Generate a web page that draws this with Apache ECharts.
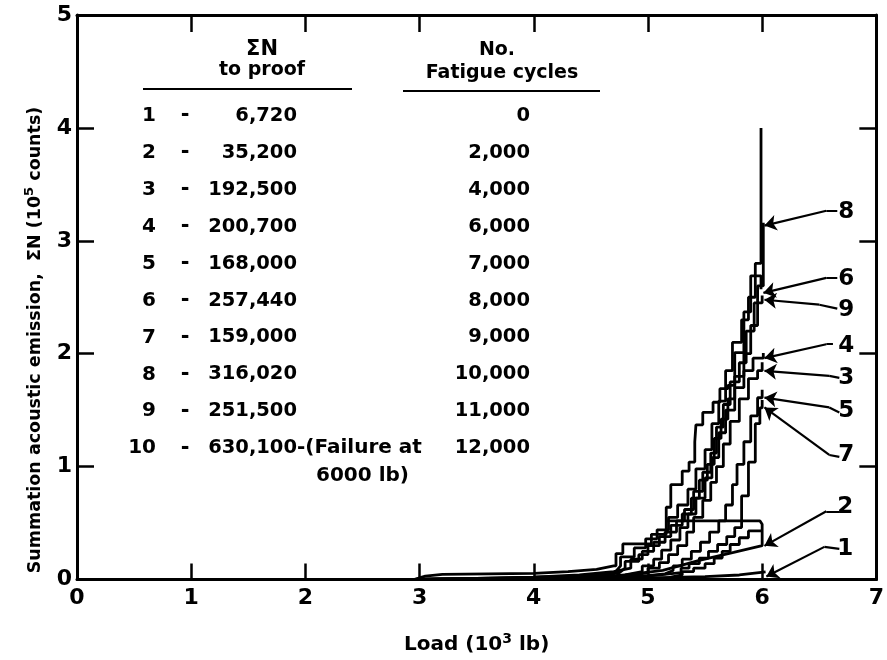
<!DOCTYPE html>
<html><head><meta charset="utf-8">
<script src="https://cdn.jsdelivr.net/npm/echarts@6/dist/echarts.min.js"></script>
<style>html,body{margin:0;padding:0;background:#fff}#c{width:887px;height:660px}</style>
</head><body><div id="c"></div>
<script>
// ---- Data (Load in 10^3 lb, ΣN in 10^5 counts) ----
const xTicks = [0,1,2,3,4,5,6,7];
const yTicks = [0,1,2,3,4,5];

const curve1 = [[2.95,0],[4.0,0.005],[5.0,0.015],[5.5,0.025],[5.8,0.04],[6.03,0.067]];
const curve2 = [[5.20,0.02],[5.30,0.04],[5.30,0.07],[5.40,0.07],[5.40,0.10],[5.50,0.10],[5.50,0.14],[5.58,0.14],[5.58,0.19],[5.65,0.19],[5.65,0.25],[5.72,0.25],[5.72,0.31],[5.80,0.31],[5.80,0.37],[5.88,0.37],[5.88,0.43],[6.0,0.43]];
const curve2b = [[2.95,0],[3.5,0.005],[4.0,0.01],[4.72,0.03],[5.13,0.08],[5.45,0.17],[5.75,0.24],[6.0,0.30],[6.0,0.49],[5.98,0.52],[5.16,0.52]];
const curve3 = [[2.95,0],[3.5,0.005],[4.0,0.01],[4.5,0.02],[4.85,0.035],[5.0,0.06],[5.0,0.1],[5.1,0.1],[5.1,0.15],[5.18,0.15],[5.18,0.22],[5.26,0.22],[5.26,0.3],[5.34,0.3],[5.34,0.42],[5.4,0.42],[5.4,0.55],[5.48,0.55],[5.48,0.7],[5.55,0.7],[5.55,0.86],[5.6,0.86],[5.6,1.0],[5.66,1.0],[5.66,1.2],[5.72,1.2],[5.72,1.4],[5.8,1.4],[5.8,1.6],[5.88,1.6],[5.88,1.78],[5.96,1.78],[5.96,1.85],[6.0,1.85],[6.0,1.925]];
const curve4 = [[2.95,0],[3.5,0.005],[4.0,0.01],[4.5,0.02],[4.8,0.04],[4.95,0.07],[4.95,0.12],[5.05,0.12],[5.05,0.18],[5.12,0.18],[5.12,0.26],[5.2,0.26],[5.2,0.35],[5.28,0.35],[5.28,0.46],[5.35,0.46],[5.35,0.58],[5.42,0.58],[5.42,0.72],[5.5,0.72],[5.5,0.9],[5.56,0.9],[5.56,1.08],[5.62,1.08],[5.62,1.3],[5.68,1.3],[5.68,1.5],[5.76,1.5],[5.76,1.7],[5.84,1.7],[5.84,1.85],[5.92,1.85],[5.92,1.96],[6.01,1.96],[6.01,2.007]];
const curve5 = [[2.95,0],[3.5,0.003],[4.0,0.008],[4.5,0.015],[4.9,0.025],[5.15,0.05],[5.22,0.08],[5.22,0.12],[5.3,0.12],[5.3,0.18],[5.38,0.18],[5.38,0.25],[5.46,0.25],[5.46,0.33],[5.54,0.33],[5.54,0.42],[5.62,0.42],[5.62,0.52],[5.68,0.52],[5.68,0.66],[5.74,0.66],[5.74,0.84],[5.78,0.84],[5.78,1.02],[5.84,1.02],[5.84,1.22],[5.9,1.22],[5.9,1.45],[5.96,1.45],[5.96,1.61],[6.0,1.61],[6.0,1.68]];
const curve6 = [[2.95,0],[3.05,0.03],[3.2,0.045],[3.6,0.05],[4.0,0.055],[4.3,0.07],[4.55,0.09],[4.70,0.12],[4.72,0.12],[4.72,0.23],[4.78,0.23],[4.78,0.315],[5.03,0.315],[5.03,0.40],[5.16,0.40],[5.16,0.64],[5.20,0.64],[5.20,0.84],[5.30,0.84],[5.30,0.96],[5.36,0.96],[5.36,1.04],[5.41,1.04],[5.41,1.22],[5.42,1.22],[5.42,1.37],[5.48,1.37],[5.48,1.48],[5.57,1.48],[5.57,1.57],[5.63,1.57],[5.63,1.69],[5.70,1.69],[5.70,1.72],[5.76,1.72],[5.76,2.01],[5.84,2.01],[5.84,2.37],[5.90,2.37],[5.90,2.69],[5.99,2.69],[5.99,2.57]];
const curve7 = [[2.95,0],[3.5,0.003],[4.0,0.006],[4.6,0.015],[5.0,0.03],[5.29,0.06],[5.29,0.10],[5.36,0.10],[5.36,0.14],[5.45,0.14],[5.45,0.19],[5.53,0.19],[5.53,0.25],[5.61,0.25],[5.61,0.31],[5.69,0.31],[5.69,0.38],[5.76,0.38],[5.76,0.46],[5.82,0.46],[5.82,0.74],[5.88,0.74],[5.88,1.04],[5.94,1.04],[5.94,1.38],[5.98,1.38],[5.98,1.52],[6.0,1.52],[6.0,1.59]];
const curve8 = [[2.95,0],[3.5,0.008],[4.0,0.015],[4.5,0.03],[4.75,0.06],[4.80,0.1],[4.80,0.16],[4.92,0.16],[4.92,0.22],[5.0,0.22],[5.0,0.30],[5.1,0.30],[5.1,0.38],[5.2,0.38],[5.2,0.48],[5.3,0.48],[5.3,0.58],[5.38,0.58],[5.38,0.72],[5.45,0.72],[5.45,0.88],[5.52,0.88],[5.52,1.02],[5.58,1.02],[5.58,1.25],[5.64,1.25],[5.64,1.42],[5.70,1.42],[5.70,1.60],[5.76,1.60],[5.76,1.80],[5.84,1.80],[5.84,2.0],[5.90,2.0],[5.90,2.25],[5.96,2.25],[5.96,2.6],[6.01,2.6],[6.01,3.16]];
const curve9 = [[2.95,0],[3.5,0.01],[4.0,0.02],[4.4,0.04],[4.7,0.07],[4.85,0.1],[4.85,0.18],[4.95,0.18],[4.95,0.25],[5.05,0.25],[5.05,0.33],[5.15,0.33],[5.15,0.42],[5.25,0.42],[5.25,0.52],[5.32,0.52],[5.32,0.62],[5.40,0.62],[5.40,0.78],[5.48,0.78],[5.48,0.95],[5.55,0.95],[5.55,1.12],[5.60,1.12],[5.60,1.35],[5.66,1.35],[5.66,1.55],[5.72,1.55],[5.72,1.75],[5.80,1.75],[5.80,1.92],[5.86,1.92],[5.86,2.2],[5.93,2.2],[5.93,2.45],[6.0,2.45],[6.0,2.515]];
const curve10 = [[2.95,0],[3.5,0.01],[4.0,0.02],[4.5,0.035],[4.7,0.05],[4.76,0.12],[4.76,0.2],[4.88,0.2],[4.88,0.28],[4.98,0.28],[4.98,0.36],[5.08,0.36],[5.08,0.44],[5.18,0.44],[5.18,0.55],[5.26,0.55],[5.26,0.66],[5.35,0.66],[5.35,0.80],[5.42,0.80],[5.42,0.98],[5.5,0.98],[5.5,1.15],[5.56,1.15],[5.56,1.38],[5.62,1.38],[5.62,1.58],[5.68,1.58],[5.68,1.85],[5.74,1.85],[5.74,2.1],[5.82,2.1],[5.82,2.3],[5.88,2.3],[5.88,2.5],[5.94,2.5],[5.94,2.8],[5.99,2.8],[5.99,4.0]];

// Table (legend) values
const specimenNo = ['1','2','3','4','5','6','7','8','9','10'];
const sumNToProof = ['6,720','35,200','192,500','200,700','168,000','257,440','159,000','316,020','251,500','630,100'];
const fatigueCycles = ['0','2,000','4,000','6,000','7,000','8,000','9,000','10,000','11,000','12,000'];

// Curve callouts: label, label point, bend point, arrow tip (data units)
const calloutNames = ['8','6','9','4','3','5','7','2','1'];
const calloutLabel = [[6.737,3.257],[6.737,2.662],[6.737,2.39],[6.737,2.067],[6.737,1.786],[6.737,1.489],[6.737,1.103],[6.728,0.639],[6.728,0.271]];
const calloutStart = [[6.658,3.266],[6.658,2.671],[6.658,2.399],[6.62,2.084],[6.676,1.786],[6.676,1.48],[6.676,1.086],[6.676,0.604],[6.676,0.271]];
const calloutBend  = [[6.562,3.266],[6.562,2.671],[6.501,2.434],[6.562,2.084],[6.588,1.804],[6.588,1.524],[6.588,1.103],[6.562,0.604],[6.545,0.289]];
const calloutTip   = [[6.020,3.135],[6.011,2.539],[6.020,2.478],[6.020,1.961],[6.020,1.848],[6.020,1.611],[6.020,1.524],[6.020,0.298],[6.037,0.026]];

const curves = [curve1,curve2,curve2b,curve3,curve4,curve5,curve6,curve7,curve8,curve9,curve10];

const FONT = 'DejaVu Sans';
const chart = echarts.init(document.getElementById('c'), null, {renderer:'canvas'});

const curveSeries = curves.map((d,i)=>({
  type:'line', data:d, showSymbol:false, symbol:'none', animation:false,
  lineStyle:{color:'#000', width:2.8, opacity:1}, z:3, silent:true
}));

const txt = (text, x, y, align, size, vAlign) => ({
  type:'text', x:x, y:y, silent:true,
  style:{text:text, fill:'#000', font:'bold '+(size||20)+'px "'+FONT+'"',
    textAlign:align||'left', textVerticalAlign:vAlign||'middle', align:align||'left', verticalAlign:vAlign||'middle'}
});

const graphics = [];
graphics.push(txt('ΣN', 262, 50, 'center', 21));
graphics.push(txt('to proof', 262, 70, 'center', 19));
graphics.push(txt('No.', 497, 50, 'center', 19));
graphics.push(txt('Fatigue cycles', 502, 73, 'center', 19));
graphics.push({type:'line', shape:{x1:143,y1:89,x2:352,y2:89}, style:{stroke:'#000', lineWidth:2}, silent:true});
graphics.push({type:'line', shape:{x1:403,y1:91,x2:600,y2:91}, style:{stroke:'#000', lineWidth:2}, silent:true});
for (let i=0;i<specimenNo.length;i++){
  const y = 116 + 36.9*i;
  graphics.push(txt(specimenNo[i], 156, y, 'right', 20));
  graphics.push(txt('-', 185, y, 'center', 21));
  graphics.push(txt(sumNToProof[i], 297, y, 'right', 19.5));
  graphics.push(txt(fatigueCycles[i], 530, y, 'right', 19.5));
}
graphics.push(txt('-(Failure at', 297, 116+36.9*9, 'left', 20));
graphics.push(txt('6000 lb)', 316, 476, 'left', 20));
// y-axis title (rotated)
graphics.push({type:'text', x:35, y:340, rotation:Math.PI/2, silent:true,
  style:{text:'{a|Summation acoustic emission,  ΣN (10}{s|5}{a| counts)}', fill:'#000',
    textAlign:'center', textVerticalAlign:'middle', align:'center', verticalAlign:'middle',
    rich:{a:{fontFamily:FONT, fontWeight:'bold', fontSize:17.5, fill:'#000', color:'#000'},
          s:{fontFamily:FONT, fontWeight:'bold', fontSize:13, fill:'#000', color:'#000', verticalAlign:'top', padding:[0,0,10,0]}}}});

const option = {
  animation:false,
  backgroundColor:'#fff',
  grid:{left:77, right:10, top:15, bottom:74, containLabel:false},
  xAxis:[
    {type:'value', min:0, max:7, interval:1, position:'bottom',
     name:'{a|Load (10}{s|3}{a| lb)}', nameLocation:'middle', nameGap:53,
     nameTextStyle:{rich:{a:{fontFamily:FONT, fontWeight:'bold', fontSize:20, color:'#000'}, s:{fontFamily:FONT, fontWeight:'bold', fontSize:14, color:'#000', verticalAlign:'top', padding:[0,0,11,0]}}},
     axisLine:{show:true, onZero:false, lineStyle:{color:'#000', width:3}},
     axisTick:{show:true, inside:true, length:16, lineStyle:{color:'#000', width:2.5}},
     axisLabel:{show:true, margin:8, color:'#000', fontFamily:FONT, fontWeight:'bold', fontSize:22},
     splitLine:{show:false}},
    {type:'value', min:0, max:7, interval:1, position:'top',
     axisLine:{show:true, onZero:false, lineStyle:{color:'#000', width:3}},
     axisTick:{show:true, inside:true, length:17, lineStyle:{color:'#000', width:2.5}},
     axisLabel:{show:false}, splitLine:{show:false}}
  ],
  yAxis:[
    {type:'value', min:0, max:5, interval:1, position:'left',
     axisLine:{show:true, onZero:false, lineStyle:{color:'#000', width:3}},
     axisTick:{show:true, inside:true, length:17, lineStyle:{color:'#000', width:2.5}},
     axisLabel:{show:true, margin:5, color:'#000', fontFamily:FONT, fontWeight:'bold', fontSize:22},
     splitLine:{show:false}},
    {type:'value', min:0, max:5, interval:1, position:'right',
     axisLine:{show:true, onZero:false, lineStyle:{color:'#000', width:3}},
     axisTick:{show:true, inside:true, length:17, lineStyle:{color:'#000', width:2.5}},
     axisLabel:{show:false}, splitLine:{show:false}}
  ],
  graphic:graphics,
  series: curveSeries.concat([
    {type:'lines', coordinateSystem:'cartesian2d', animation:false, silent:true, z:4,
     symbol:'none',
     lineStyle:{color:'#000', width:2.2, curveness:0, opacity:1},
     data: calloutStart.map((s,i)=>({coords:[s, calloutBend[i]]}))},
    {type:'lines', coordinateSystem:'cartesian2d', animation:false, silent:true, z:4,
     symbol:['none','arrow'], symbolSize:[4,12],
     lineStyle:{color:'#000', width:2.2, curveness:0, opacity:1},
     itemStyle:{color:'#000', opacity:1},
     data: calloutBend.map((b,i)=>({coords:[b, calloutTip[i]]}))},
    {type:'scatter', animation:false, silent:true, z:5, symbolSize:1,
     itemStyle:{color:'rgba(0,0,0,0)'},
     label:{show:true, position:'inside', formatter:p=>p.name, color:'#000', opacity:1, fontFamily:FONT, fontWeight:'bold', fontSize:23},
     data: calloutNames.map((n,i)=>({name:n, value:calloutLabel[i]}))}
  ])
};
chart.setOption(option);
</script>
</body></html>
